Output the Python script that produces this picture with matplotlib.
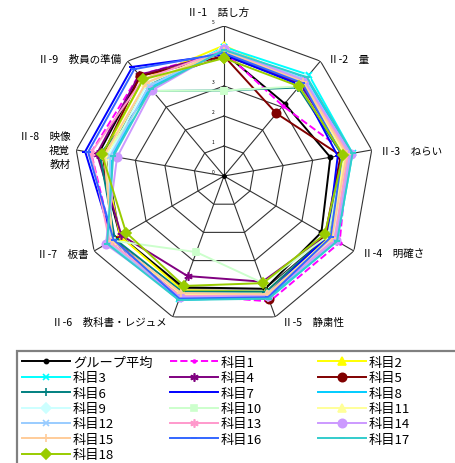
import numpy as np
import matplotlib
matplotlib.use('Agg')
import matplotlib.pyplot as plt
from matplotlib.patches import Rectangle

plt.rcParams['font.family'] = ['Noto Sans CJK JP', 'DejaVu Sans']

# 軸ラベル（時計回り、上から）
axis_labels = ['Ⅱ-1　話し方', 'Ⅱ-2　量', 'Ⅱ-3　ねらい', 'Ⅱ-4　明確さ', 'Ⅱ-5　静粛性',
               'Ⅱ-6　教科書・レジュメ', 'Ⅱ-7　板書', 'Ⅱ-8　映像\n視覚\n教材', 'Ⅱ-9　教員の準備']
tick_values = [0, 1, 2, 3, 4, 5]
tick_labels = ['0', '1', '2', '3', '', '5']

names = ['グループ平均', '科目1', '科目2', '科目3', '科目4', '科目5', '科目6', '科目7',
         '科目8', '科目9', '科目10', '科目11', '科目12', '科目13', '科目14', '科目15',
         '科目16', '科目17', '科目18']

avg = [4.10, 3.15, 3.60, 3.75, 4.00, 3.95, 4.00, 4.25, 4.35]
s1 = [4.15, 3.05, 4.20, 4.45, 4.45, 4.20, 4.30, 4.50, 4.40]
s2 = [4.35, 4.10, 4.10, 4.05, 4.10, 4.05, 4.00, 4.10, 4.20]
s3 = [4.30, 4.40, 4.35, 4.35, 4.35, 4.35, 4.50, 3.80, 3.90]
s4 = [4.10, 4.00, 4.00, 3.95, 3.75, 3.55, 3.95, 4.30, 4.40]
s5 = [4.00, 2.72, 3.95, 3.90, 4.35, 4.25, 4.25, 4.10, 4.35]
s6 = [2.85, 3.85, 4.00, 4.00, 4.10, 4.10, 4.20, 4.20, 3.70]
s7 = [4.05, 3.95, 3.85, 4.00, 4.20, 4.25, 4.30, 4.70, 4.75]
s8 = [4.20, 4.25, 4.30, 4.25, 4.30, 4.40, 4.40, 3.80, 3.85]
s9 = [4.25, 4.20, 4.20, 4.20, 4.25, 4.30, 4.40, 3.90, 4.00]
s10 = [2.85, 3.90, 4.05, 4.00, 3.80, 2.70, 4.30, 4.05, 3.70]
s11 = [4.20, 4.10, 4.10, 4.10, 4.20, 4.20, 4.30, 4.00, 4.05]
s12 = [4.25, 4.20, 4.25, 4.25, 4.25, 4.30, 4.45, 3.85, 3.90]
s13 = [4.20, 4.15, 4.20, 4.25, 4.25, 4.25, 4.40, 4.50, 4.20]
s14 = [4.23, 4.15, 4.30, 4.30, 4.25, 4.30, 4.55, 3.62, 3.73]
s15 = [4.15, 4.10, 4.15, 4.15, 4.20, 4.15, 4.30, 4.05, 4.05]
s16 = [4.10, 4.05, 4.00, 4.10, 4.30, 4.35, 4.25, 4.60, 4.65]
s17 = [4.20, 4.30, 4.35, 4.35, 4.35, 4.40, 4.50, 3.75, 3.80]
s18 = [3.93, 3.90, 4.03, 3.88, 3.80, 3.90, 3.77, 4.13, 4.20]
scores = [avg, s1, s2, s3, s4, s5, s6, s7, s8, s9, s10, s11, s12, s13, s14, s15, s16, s17, s18]

colors = ['#000000', '#FF00FF', '#FFFF00', '#00FFFF', '#800080', '#800000', '#008080',
          '#0000FF', '#00CCFF', '#CCFFFF', '#CCFFCC', '#FFFF99', '#99CCFF', '#FF99CC',
          '#CC99FF', '#FFCC99', '#3366FF', '#33CCCC', '#99CC00']
markers = ['o', '.', '^', 'x', (6, 2, 0), 'o', '+', '_', '_', 'D', 's', '^', 'x',
           (6, 2, 0), 'o', '+', '_', '_', 'D']
msizes = [3, 4, 6, 5, 6, 6, 6, 5, 5, 5, 5, 6, 5, 6, 6, 6, 5, 5, 5]

n = len(axis_labels)
theta = np.arange(n) * 2 * np.pi / n
theta_c = np.append(theta, theta[0])

fig = plt.figure(figsize=(4.55, 4.64), dpi=100)
W, H = 455, 464
cx, cy, R = 224, 177, 150
ax = fig.add_axes([(cx - R) / W, (H - cy - R) / H, 2 * R / W, 2 * R / H], projection='polar')
ax.set_theta_offset(np.pi / 2)
ax.set_theta_direction(-1)
ax.set_ylim(0, 5)
ax.grid(False)
ax.set_xticks([])
ax.set_yticks([])
ax.spines['polar'].set_visible(False)
ax.patch.set_visible(False)

# 格子
for v in tick_values[1:]:
    ax.plot(theta_c, [v] * (n + 1), color='#333333', lw=0.8, zorder=1)
for t in theta:
    ax.plot([t, t], [0, 5], color='#333333', lw=0.8, zorder=1)
ax.plot([0], [0], 'o', color='black', ms=2.5, zorder=1)

for v, lab in zip(tick_values, tick_labels):
    ax.annotate(lab, xy=(0, v), xytext=(-11, 4), textcoords='offset pixels',
                fontsize=3.5, ha='center', va='center')

# 系列
lines = []
for i, vals in enumerate(scores):
    ls = '--' if i == 1 else '-'
    ln, = ax.plot(theta_c, vals + [vals[0]], color=colors[i], ls=ls, lw=1.4,
                  marker=markers[i], ms=msizes[i], mew=1.2, zorder=2 + i)
    lines.append(ln)

# 軸ラベル
label_pos = [((-6, 14), 'center', 'center'), ((8, 2), 'left', 'center'),
             ((8, -1), 'left', 'center'), ((8, -3), 'left', 'center'),
             ((7, -5), 'left', 'center'), ((-6, -5), 'right', 'center'),
             ((-6, -3), 'right', 'center'), ((-6, 0), 'right', 'center'),
             ((-6, 2), 'right', 'center')]
for t, lab, (off, ha, va) in zip(theta, axis_labels, label_pos):
    ax.annotate(lab, xy=(t, 5), xytext=off, textcoords='offset pixels',
                fontsize=7.6, ha=ha, va=va, multialignment='right', linespacing=1.45)

# 凡例：3列を横方向の順に、各列を等間隔に配置
fig.add_artist(Rectangle((17 / W, -0.05), 1.2, 1 - 352 / H + 0.05, transform=fig.transFigure,
                         facecolor='white', edgecolor='#808080', lw=1.6, zorder=0))
col_x = [22, 170, 318]
for c in range(3):
    idx = list(range(c, len(names), 3))
    lg = fig.legend([lines[k] for k in idx], [names[k] for k in idx],
                    loc='upper left', bbox_to_anchor=(col_x[c] / W, 1 - 357 / H),
                    fontsize=9.5, handlelength=3.6, handletextpad=0.25,
                    labelspacing=0.18, borderpad=0, borderaxespad=0, frameon=False)

fig.savefig('out.png', dpi=100)
